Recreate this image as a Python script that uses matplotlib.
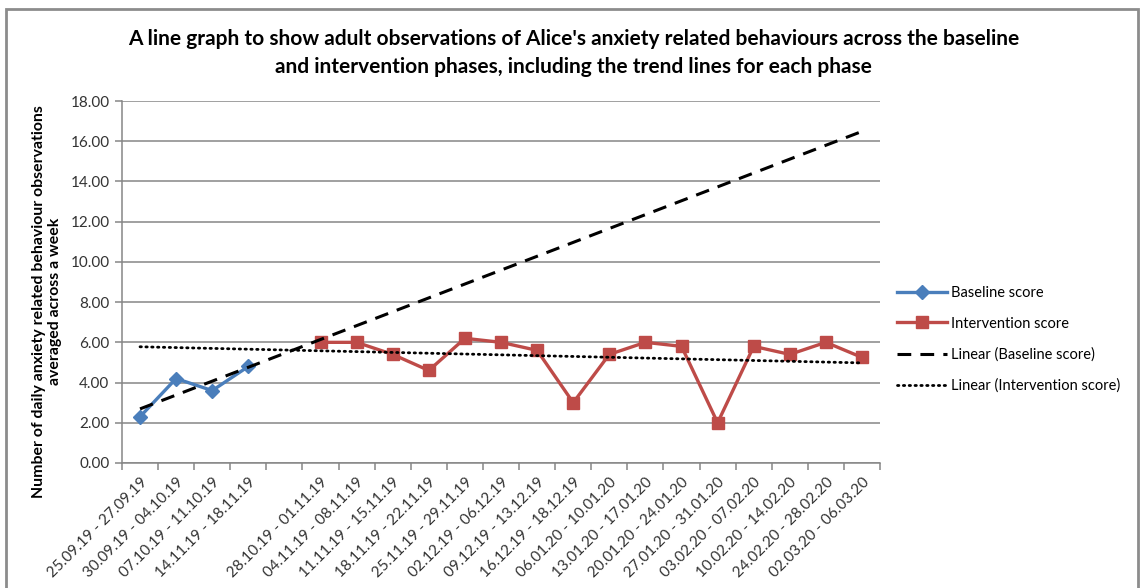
import numpy as np
import matplotlib.pyplot as plt
from matplotlib.patches import Rectangle

plt.rcParams['font.family'] = ['Lato', 'DejaVu Sans']

weeks = ["25.09.19 - 27.09.19", "30.09.19 - 04.10.19", "07.10.19 - 11.10.19", "14.11.19 - 18.11.19",
         "",
         "28.10.19 - 01.11.19", "04.11.19 - 08.11.19", "11.11.19 - 15.11.19", "18.11.19 - 22.11.19",
         "25.11.19 - 29.11.19", "02.12.19 - 06.12.19", "09.12.19 - 13.12.19", "16.12.19 - 18.12.19",
         "06.01.20 - 10.01.20", "13.01.20 - 17.01.20", "20.01.20 - 24.01.20", "27.01.20 - 31.01.20",
         "03.02.20 - 07.02.20", "10.02.20 - 14.02.20", "24.02.20 - 28.02.20", "02.03.20 - 06.03.20"]
baseline = [2.3, 4.2, 3.6, 4.8]
intervention = [6.0, 6.0, 5.4, 4.6, 6.2, 6.0, 5.6, 3.0, 5.4, 6.0, 5.8, 2.0, 5.8, 5.4, 6.0, 5.25]

n = len(weeks)
x_all = np.arange(1, n + 1)
x_base = np.arange(1, len(baseline) + 1)
x_int = np.arange(n - len(intervention) + 1, n + 1)

# linear trend lines, extended over the whole axis
pb = np.polyfit(x_base, baseline, 1)
pi = np.polyfit(x_int, intervention, 1)

fig = plt.figure(figsize=(11.41, 5.88), dpi=100)
ax = fig.add_axes([0.1069, 0.2126, 0.6644, 0.6156])

grey = '#868686'
blue = '#4A7EBB'
red = '#BE4B48'

ax.plot(x_base, baseline, color=blue, lw=2.4, marker='D', ms=7.5, label='Baseline score', zorder=3)
ax.plot(x_int, intervention, color=red, lw=2.4, marker='s', ms=9, label='Intervention score', zorder=3)
ax.plot(x_all, np.polyval(pb, x_all), color='black', lw=2.2, dashes=(4.5, 3),
        label='Linear (Baseline score)', zorder=4)
ax.plot(x_all, np.polyval(pi, x_all), color='black', lw=2.0, linestyle=(0, (0.5, 1.6)),
        dash_capstyle='round', label='Linear (Intervention score)', zorder=4)

ax.set_xlim(0.5, n + 0.5)
ax.set_ylim(0, 18)
ax.set_yticks(np.arange(0, 18.01, 2))
ax.set_yticklabels(['%.2f' % v for v in np.arange(0, 18.01, 2)], fontsize=11, color='#333333')
ax.yaxis.grid(True, color=grey, lw=1.1)
ax.set_axisbelow(True)

ax.set_xticks(np.arange(0.5, n + 1, 1))
ax.set_xticklabels([])
ax.set_xticks(x_all, minor=True)
ax.set_xticklabels(weeks, minor=True, rotation=45, ha='right', va='top',
                   rotation_mode='anchor', fontsize=11, color='#333333')
ax.tick_params(axis='x', which='minor', length=0, pad=9)
ax.tick_params(axis='x', which='major', length=5, color=grey, width=1.1)
ax.tick_params(axis='y', length=5, color=grey, width=1.1, pad=4)

for s in ['top', 'right']:
    ax.spines[s].set_visible(False)
for s in ['left', 'bottom']:
    ax.spines[s].set_color(grey)
    ax.spines[s].set_linewidth(1.1)

fig.text(0.041, 0.487, "Number of daily anxiety related behaviour observations\naveraged across a week",
         rotation=90, ha='center', va='center', multialignment='center',
         fontsize=11.4, fontweight='bold', linespacing=1.2)

fig.text(0.503, 0.910, "A line graph to show adult observations of Alice's anxiety related behaviours across the baseline\n"
         "and intervention phases, including the trend lines for each phase",
         ha='center', va='center', multialignment='center', fontsize=15, fontweight='bold', linespacing=1.45)

fig.legend(loc='center left', bbox_to_anchor=(0.775, 0.423), frameon=False, fontsize=10.5,
           handlelength=3.4, handletextpad=0.3, labelspacing=1.15)

fig.patches.append(Rectangle((6 / 1141, -0.1), 1132 / 1141, 1.1 - 9 / 588, transform=fig.transFigure,
                             fill=False, edgecolor='#8c8c8c', lw=2))

fig.savefig('out.png', dpi=100)
